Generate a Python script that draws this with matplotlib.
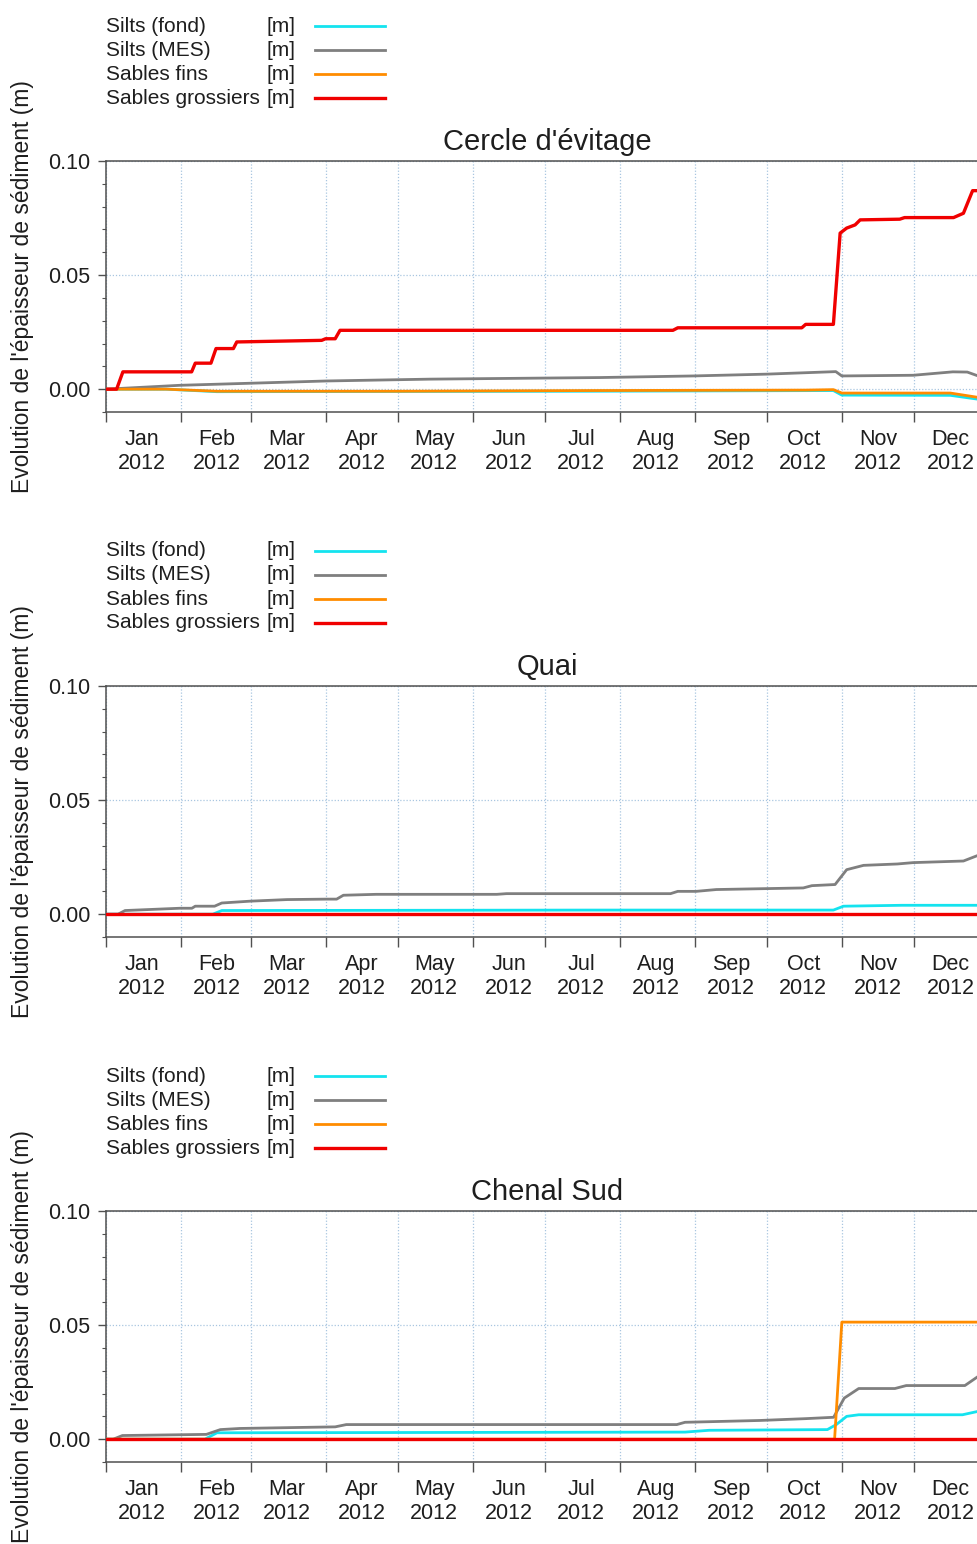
import numpy as np
import matplotlib
matplotlib.use("Agg")
import matplotlib.pyplot as plt
import matplotlib.dates as mdates
from matplotlib.lines import Line2D
from matplotlib.ticker import MultipleLocator
from datetime import datetime, timedelta

plt.rcParams['font.family'] = ['Liberation Sans', 'DejaVu Sans']

# days counted from 1 Jan 2012, values in metres
series_names = ["Silts (fond)", "Silts (MES)", "Sables fins", "Sables grossiers"]
series_colors = ["#14e3ef", "#7f7f7f", "#ff8c00", "#f00000"]
panel_titles = ["Cercle d'évitage", "Quai", "Chenal Sud"]

# --- Cercle d'évitage ---
c1_fond_days = [0, 25, 46, 200, 301.5, 305, 350, 361.5, 366]
c1_fond_vals = [0, 0, -0.0011, -0.0009, -0.0006, -0.0026, -0.0027, -0.0044, -0.0046]
c1_mes_days = [0, 30.6, 59.7, 91.5, 134.3, 204.8, 243.4, 274, 300, 302.5, 305, 334.6, 351, 357, 361.5, 366]
c1_mes_vals = [0, 0.0017, 0.0026, 0.0036, 0.0044, 0.0051, 0.0058, 0.0066, 0.0076, 0.0077, 0.0058, 0.0061,
               0.0076, 0.0075, 0.0058, 0.0056]
c1_fins_days = [0, 25, 46, 120, 200, 290, 301.5, 305, 350, 361.5, 366]
c1_fins_vals = [0, 0, -0.0009, -0.0009, -0.0006, -0.0004, -0.0002, -0.0017, -0.0017, -0.0036, -0.0038]
c1_gros_days = [0, 4.4, 7, 35.5, 37, 43.5, 45.6, 52.8, 54.2, 89.4, 91, 95, 97, 235, 237, 288.4, 290, 301.5,
                304.3, 307, 310.5, 312.6, 329, 331, 351.3, 355.4, 359.2, 366]
c1_gros_vals = [0, 0, 0.0076, 0.0076, 0.0114, 0.0114, 0.0178, 0.0178, 0.0207, 0.0214, 0.0221, 0.0221, 0.0258,
                0.0258, 0.0269, 0.0269, 0.0284, 0.0284, 0.0684, 0.0706, 0.072, 0.0742, 0.0745, 0.0752, 0.0752,
                0.0771, 0.087, 0.087]

# --- Quai ---
c2_fond_days = [0, 44.3, 48, 200, 301.5, 305.7, 330, 366]
c2_fond_vals = [0, 0, 0.0016, 0.0018, 0.0018, 0.0035, 0.0039, 0.0039]
c2_mes_days = [0, 5, 7.9, 30.6, 35.6, 37, 45, 48, 59.7, 75, 91.5, 95.6, 98.4, 112, 162, 166, 234, 237, 244.6,
               253, 289, 292.6, 302.2, 307, 314, 328, 334.6, 355.4, 361.5, 366]
c2_mes_vals = [0, 0, 0.0016, 0.0026, 0.0026, 0.0035, 0.0035, 0.0049, 0.0057, 0.0064, 0.0066, 0.0066, 0.0083,
               0.0087, 0.0087, 0.0090, 0.0090, 0.0100, 0.0100, 0.0108, 0.0115, 0.0125, 0.0130, 0.0195, 0.0214,
               0.0220, 0.0226, 0.0233, 0.0258, 0.0270]
c2_fins_days = [0, 366]
c2_fins_vals = [0, 0]
c2_gros_days = [0, 366]
c2_gros_vals = [0, 0]

# --- Chenal Sud ---
c3_fond_days = [0, 41, 46, 240, 250, 299, 302.7, 307, 312, 355, 361.5, 366]
c3_fond_vals = [0, 0, 0.0028, 0.0031, 0.0039, 0.0042, 0.0064, 0.0100, 0.0107, 0.0107, 0.0122, 0.0125]
c3_mes_days = [0, 3, 6.8, 41.6, 47.4, 55.5, 95, 99.6, 236.6, 240, 271, 290, 301.6, 306, 312, 327, 331.7, 356,
               361.5, 366]
c3_mes_vals = [0, 0, 0.0016, 0.0021, 0.0042, 0.0047, 0.0054, 0.0064, 0.0064, 0.0074, 0.0082, 0.0090, 0.0096,
               0.0180, 0.0222, 0.0222, 0.0235, 0.0235, 0.0275, 0.0290]
c3_fins_days = [0, 302, 305, 366]
c3_fins_vals = [0, 0, 0.0513, 0.0513]
c3_gros_days = [0, 366]
c3_gros_vals = [0, 0]

panels = [
    [(c1_fond_days, c1_fond_vals), (c1_mes_days, c1_mes_vals), (c1_fins_days, c1_fins_vals), (c1_gros_days, c1_gros_vals)],
    [(c2_fond_days, c2_fond_vals), (c2_mes_days, c2_mes_vals), (c2_fins_days, c2_fins_vals), (c2_gros_days, c2_gros_vals)],
    [(c3_fond_days, c3_fond_vals), (c3_mes_days, c3_mes_vals), (c3_fins_days, c3_fins_vals), (c3_gros_days, c3_gros_vals)],
]

start = datetime(2012, 1, 1)
W, H = 978, 1544
fig = plt.figure(figsize=(W / 100, H / 100), dpi=100)

line_widths = [2.0, 2.0, 2.0, 2.4]
grid_col = "#a9c6e0"
spine_col = "#505050"
txt_col = "#1e1e1e"

for k, (title, data) in enumerate(zip(panel_titles, panels)):
    off = 525 * k
    ax = fig.add_axes([106 / W, 1 - (412 + off) / H, 883 / W, 251 / H])

    for (days, vals), col, lw in zip(data, series_colors, line_widths):
        dates = [start + timedelta(days=d) for d in days]
        ax.plot(dates, vals, color=col, lw=lw, solid_joinstyle='round', zorder=3)

    ax.set_xlim(start, datetime(2013, 1, 1))
    ax.set_ylim(-0.01, 0.10)

    ax.xaxis.set_major_locator(mdates.MonthLocator())
    ax.xaxis.set_major_formatter(plt.NullFormatter())
    ax.xaxis.set_minor_locator(mdates.MonthLocator(bymonthday=16))
    ax.xaxis.set_minor_formatter(mdates.DateFormatter('%b\n%Y'))
    ax.tick_params(axis='x', which='major', direction='out', length=7, width=1, color=spine_col)
    ax.tick_params(axis='x', which='minor', length=0, pad=12, labelsize=15.5, labelcolor=txt_col)

    ax.yaxis.set_major_locator(MultipleLocator(0.05))
    ax.yaxis.set_minor_locator(MultipleLocator(0.01))
    ax.yaxis.set_major_formatter(plt.FormatStrFormatter('%.2f'))
    ax.tick_params(axis='y', which='major', direction='out', length=6, width=1, color=spine_col,
                   labelsize=15.5, labelcolor=txt_col, pad=5)
    ax.tick_params(axis='y', which='minor', direction='out', length=3, width=0.8, color=spine_col)

    ax.grid(True, which='major', axis='both', color=grid_col, linestyle=(0, (1, 1.5)), linewidth=0.9)
    for s in ax.spines.values():
        s.set_color(spine_col)
        s.set_linewidth(1.1)

    ax.set_title(title, fontsize=21, color=txt_col, pad=8)
    ax.set_ylabel("Evolution de l'épaisseur de sédiment (m)", fontsize=16.5, color=txt_col)
    ax.yaxis.set_label_coords(-0.082, 0.5)

    # legend block above each panel
    for i, (name, col, lw) in enumerate(zip(series_names, series_colors, line_widths)):
        y = 1 - (26 + 24 * i + off) / H
        fig.text(106 / W, y, name, fontsize=15, color=txt_col, va='center', ha='left')
        fig.text(267 / W, y, "[m]", fontsize=15, color=txt_col, va='center', ha='left')
        fig.add_artist(Line2D([315 / W, 385 / W], [y, y], color=col, lw=lw))

fig.savefig("out.png", dpi=100)
